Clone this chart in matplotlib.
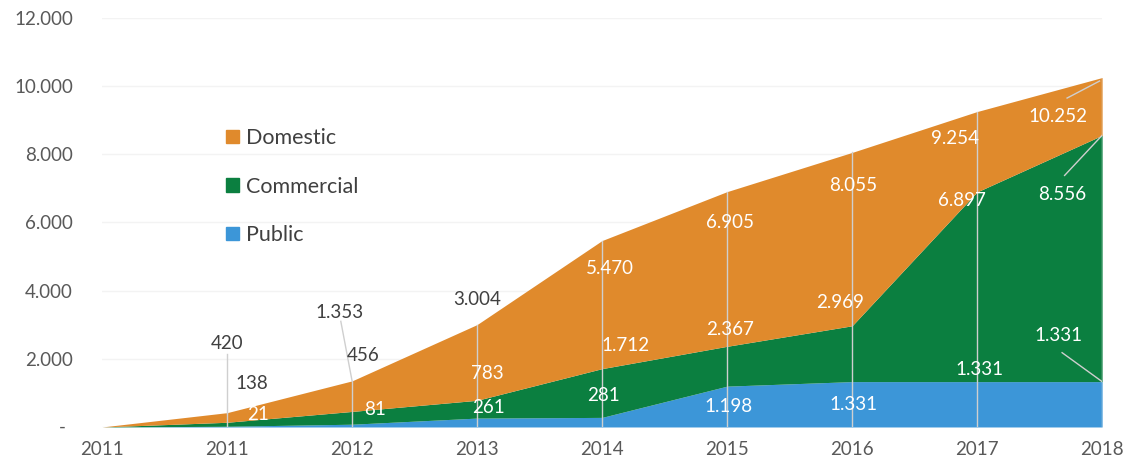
import matplotlib.pyplot as plt
from matplotlib.ticker import FuncFormatter
from matplotlib.patches import Patch

plt.rcParams['font.family'] = ['Lato', 'DejaVu Sans']

years = ["2011", "2011", "2012", "2013", "2014", "2015", "2016", "2017", "2018"]
# cumulative stack tops per year
public_top = [0, 21, 81, 261, 281, 1198, 1331, 1331, 1331]
commercial_top = [0, 138, 456, 783, 1712, 2367, 2969, 6897, 8556]
domestic_top = [0, 420, 1353, 3004, 5470, 6905, 8055, 9254, 10252]

COL_DOMESTIC = "#E08A2C"
COL_COMMERCIAL = "#0B7F40"
COL_PUBLIC = "#3C96D8"
TEXT_DARK = "#404040"
TICK_COLOR = "#595959"
LINE_GREY = "#cfcfcf"

# label centres (x in category units, y in data units), index 1..8
domestic_pos = [(1.00, 2460), (1.90, 3370), (3.00, 3750), (4.06, 4660),
                (5.02, 6010), (6.01, 7090), (6.82, 8470), (7.65, 9110)]
commercial_pos = [(1.20, 1290), (2.09, 2110), (3.08, 1580), (4.19, 2400),
                  (5.02, 2870), (5.90, 3660), (6.88, 6650), (7.68, 6830)]
public_pos = [(1.25, 380), (2.18, 500), (3.09, 560), (4.01, 910),
              (5.01, 615), (6.01, 645), (7.02, 1700), (7.65, 2670)]


def fmt_thousands(v):
    return f"{int(v):,}".replace(",", ".")


def main():
    fig = plt.figure(figsize=(11.39, 4.63), dpi=100, facecolor="white")
    ax = fig.add_axes([0.0896, 0.0778, 0.878, 0.8834])

    x = list(range(len(years)))
    zeros = [0] * len(x)
    ax.fill_between(x, zeros, public_top, color=COL_PUBLIC, lw=0, zorder=2)
    ax.fill_between(x, public_top, commercial_top, color=COL_COMMERCIAL, lw=0, zorder=2)
    ax.fill_between(x, commercial_top, domestic_top, color=COL_DOMESTIC, lw=0, zorder=2)

    # drop lines
    for i in x[1:]:
        ax.plot([i, i], [0, domestic_top[i]], color=LINE_GREY, lw=1, zorder=3)

    # leader lines
    ax.plot([1, 1], [domestic_top[1], 2150], color=LINE_GREY, lw=1, zorder=3)
    ax.plot([2, 1.91], [domestic_top[2], 3100], color=LINE_GREY, lw=1, zorder=3)
    ax.plot([7.70, 8.0], [7380, commercial_top[8]], color=LINE_GREY, lw=1, zorder=3)
    ax.plot([7.68, 8.0], [2180, public_top[8]], color=LINE_GREY, lw=1, zorder=3)
    ax.plot([7.72, 7.98], [9650, 10150], color=LINE_GREY, lw=1, zorder=3)

    lbl = dict(fontsize=13.5, ha="center", va="center", zorder=4)
    for i, (px, py) in enumerate(domestic_pos, start=1):
        c = TEXT_DARK if i <= 3 else "white"
        ax.text(px, py, fmt_thousands(domestic_top[i]), color=c, **lbl)
    for i, (px, py) in enumerate(commercial_pos, start=1):
        c = TEXT_DARK if i <= 2 else "white"
        ax.text(px, py, fmt_thousands(commercial_top[i]), color=c, **lbl)
    for i, (px, py) in enumerate(public_pos, start=1):
        ax.text(px, py, fmt_thousands(public_top[i]), color="white", **lbl)

    ax.set_xlim(0, 8)
    ax.set_ylim(0, 12000)
    ax.set_xticks(x)
    ax.set_xticklabels(years)
    ax.set_yticks(range(0, 12001, 2000))
    ax.yaxis.set_major_formatter(FuncFormatter(
        lambda v, p: "" if v == 0 else fmt_thousands(v)))
    ax.tick_params(axis="both", length=0, colors=TICK_COLOR, labelsize=13.5)
    ax.tick_params(axis="y", pad=21)
    ax.tick_params(axis="x", pad=10)
    # zero shown as a dash, accounting style
    ax.annotate("-", xy=(0, 0), xycoords="axes fraction", xytext=(-40, 0),
                textcoords="offset pixels", ha="center", va="center",
                color=TICK_COLOR, fontsize=13.5)
    for s in ax.spines.values():
        s.set_visible(False)
    ax.grid(axis="y", color="#f3f3f3", lw=1, zorder=0)
    ax.set_axisbelow(True)

    handles = [Patch(color=COL_DOMESTIC, label="Domestic"),
               Patch(color=COL_COMMERCIAL, label="Commercial"),
               Patch(color=COL_PUBLIC, label="Public")]
    ax.legend(handles=handles, loc="upper left", bbox_to_anchor=(0.105, 0.778),
              frameon=False, fontsize=15.5, handlelength=0.6, handleheight=0.6,
              handletextpad=0.3, labelspacing=1.32, labelcolor=TEXT_DARK)

    fig.savefig("out.png", dpi=100)


if __name__ == "__main__":
    main()
